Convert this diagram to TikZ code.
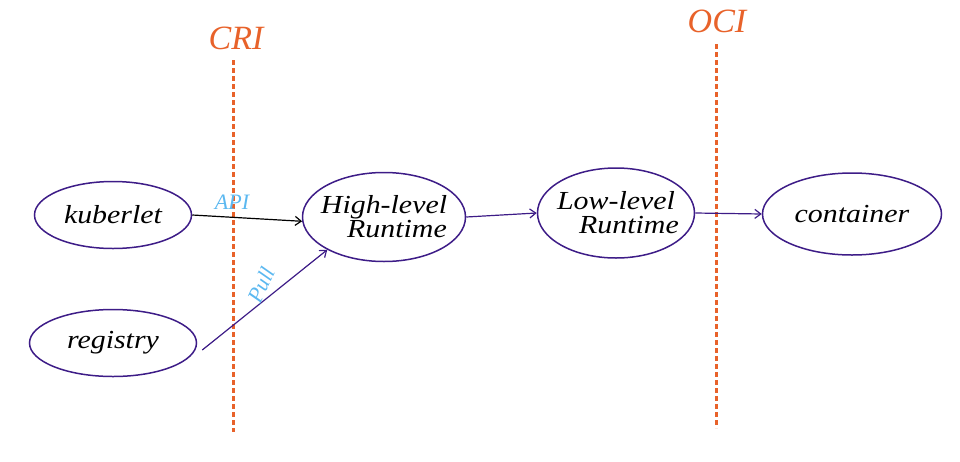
\documentclass[tikz,border=0pt]{standalone}
\usepackage{fontspec}
\setmainfont{Liberation Serif}
\newfontfamily\handfont{Liberation Serif}[FakeStretch=1.15]
\usetikzlibrary{shapes.geometric,arrows.meta}
\definecolor{ora}{HTML}{E8622A}
\definecolor{pur}{HTML}{3D1C87}
\definecolor{sky}{HTML}{5BB8F0}
\tikzset{
  ell/.style={ellipse, draw=pur, line width=1.5pt, inner sep=0pt, font=\handfont\fontsize{26}{26}\selectfont\itshape, align=center},
  boundary/.style={draw=ora, line width=3pt, dash pattern=on 5pt off 3pt},
  blabel/.style={text=ora, font=\fontsize{34}{34}\selectfont\itshape},
  conn/.style={draw=pur, line width=1.2pt, -{Straight Barb[length=6pt,width=9pt]}},
  lbl/.style={text=sky, font=\fontsize{22}{22}\selectfont\itshape, inner sep=0pt}
}
\begin{document}
\begin{tikzpicture}[x=1pt,y=-1pt]
\useasboundingbox (0,0) rectangle (960,461);
% boundaries
\coordinate (critop) at (233,60);
\coordinate (cribot) at (233,432);
\coordinate (ocitop) at (716,44);
\coordinate (ocibot) at (716,428);
\draw[boundary] (critop) -- (cribot);
\draw[boundary] (ocitop) -- (ocibot);
\node[blabel] (cri) at (236,38) {CRI};
\node[blabel] (oci) at (717,21) {OCI};
% nodes
\node[ell, minimum width=157pt, minimum height=67pt] (kub) at (113,215) {kuberlet};
\node[ell, minimum width=167pt, minimum height=67pt] (reg) at (113,343) {registry};
\node[ell, inner xsep=-9pt, minimum width=163pt, minimum height=89pt] (high) at (384,217) {High-level\\[-2pt]\hspace*{1.0em}Runtime};
\node[ell, inner xsep=-9pt, minimum width=157pt, minimum height=90pt] (low) at (616,213) {Low-level\\[-2pt]\hspace*{1.0em}Runtime};
\node[ell, minimum width=179pt, minimum height=82pt] (cont) at (852,214) {container};
% connectors
\draw[conn, draw=black] (kub.east) -- (high.183);
\draw[conn] ([xshift=5pt,yshift=-7pt]reg.east) -- (high.-150);
\draw[conn] (high.east) -- (low.west);
\draw[conn] (low.east) -- (cont.west);
% labels
\node[lbl] (api) at (232,202) {API};
\node[lbl, rotate=65] (pull) at (261,285) {Pull};
\end{tikzpicture}
\end{document}
